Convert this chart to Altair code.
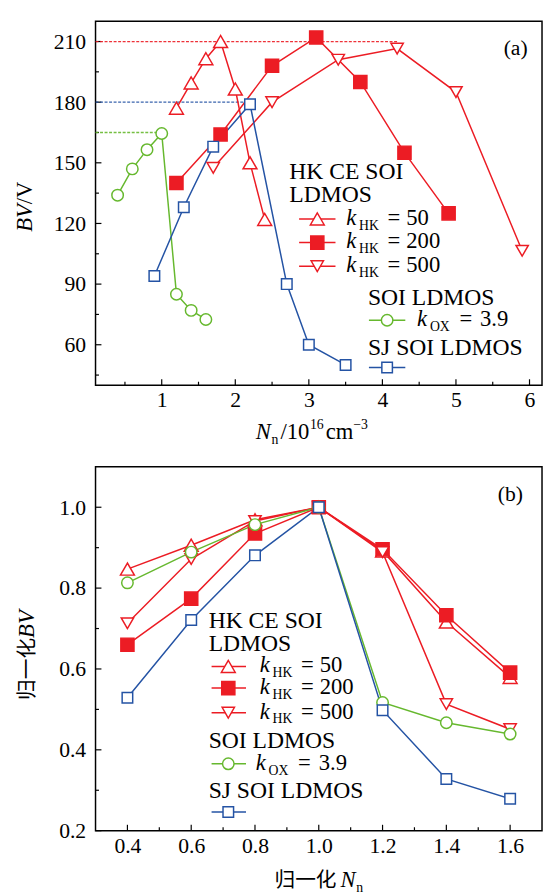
import altair as alt
import pandas as pd

# ---------------- Panel (a): BV vs Nn (10^16 cm^-3) ----------------
a_k50_x = [1.2, 1.4, 1.6, 1.8, 2.0, 2.2, 2.4]
a_k50_y = [177, 189.5, 201.5, 210, 186.5, 150, 122]
a_k200_x = [1.2, 1.8, 2.5, 3.1, 3.7, 4.3, 4.9]
a_k200_y = [140, 164, 198, 212, 190, 155, 125]
a_k500_x = [1.7, 2.5, 3.4, 4.2, 5.0, 5.9]
a_k500_y = [147.5, 180, 201, 206.5, 185, 106.5]
a_ox_x = [0.4, 0.6, 0.8, 1.0, 1.2, 1.4, 1.6]
a_ox_y = [134, 147, 156.5, 164.5, 85, 77, 72.5]
a_sj_x = [0.9, 1.3, 1.7, 2.2, 2.7, 3.0, 3.5]
a_sj_y = [94, 128, 158, 179, 90, 60, 50]
a_ref_series = ["k200", "sj", "ox"]
a_ref_y = [210, 180, 165]
a_ref_x0 = [0.1, 0.1, 0.1]
a_ref_x1 = [4.2, 2.2, 1.0]
a_xmajor = [1, 2, 3, 4, 5, 6]
a_xminor = [0.5, 1.5, 2.5, 3.5, 4.5, 5.5]
a_ymajor = [60, 90, 120, 150, 180, 210]
a_yminor = [45, 75, 105, 135, 165, 195]

# ---------------- Panel (b): normalized ----------------
b_x = [0.4, 0.6, 0.8, 1.0, 1.2, 1.4, 1.6]
b_k50_y = [0.847, 0.906, 0.969, 1.0, 0.892, 0.716, 0.579]
b_k200_y = [0.660, 0.774, 0.935, 1.0, 0.896, 0.733, 0.591]
b_k500_y = [0.713, 0.872, 0.966, 1.0, 0.889, 0.513, 0.451]
b_ox_y = [0.813, 0.889, 0.957, 1.0, 0.517, 0.467, 0.439]
b_sj_y = [0.529, 0.721, 0.881, 1.0, 0.498, 0.328, 0.279]
b_xmajor = [0.4, 0.6, 0.8, 1.0, 1.2, 1.4, 1.6]
b_xminor = [0.5, 0.7, 0.9, 1.1, 1.3, 1.5]
b_ymajor = [0.2, 0.4, 0.6, 0.8, 1.0]
b_yminor = [0.3, 0.5, 0.7, 0.9]

RED = "#ec1c24"
GREEN = "#66b82e"
BLUE = "#2453a4"
SER = ["k50", "k200", "k500", "ox", "sj"]
SER_COLOR = [RED, RED, RED, GREEN, BLUE]
SER_SHAPE = ["triangle-up", "square", "triangle-down", "circle", "square"]
SER_FILL = ["white", RED, "white", "white", "white"]
SER_SIZE = [200, 115, 200, 105, 115]

W, H = 454, 370
FONT = "'Liberation Serif', 'DejaVu Serif', 'Noto Sans CJK SC', serif"

color_sc = alt.Scale(domain=SER, range=SER_COLOR)
shape_sc = alt.Scale(domain=SER, range=SER_SHAPE)
fill_sc = alt.Scale(domain=SER, range=SER_FILL)
size_sc = alt.Scale(domain=SER, range=SER_SIZE)


def long_df(xs_list, ys_list):
    rows = []
    for s, xs, ys in zip(SER, xs_list, ys_list):
        for x, y in zip(xs, ys):
            rows.append({"s": s, "x": x, "y": y})
    return pd.DataFrame(rows)


def T(lst, s, x, y, fs=23, it=False, ang=0):
    lst.append(dict(t=s, px=x, py=y, fs=fs, it=it, ang=ang))


def heading(lst, s, x, ycen):
    T(lst, s, x, ycen + 8, 24)


def k_entry(lst, kx, ycen, sub, val, dsub=13, deq=42, dval=61):
    base = ycen + 6
    T(lst, "k", kx, base, 23, True)
    T(lst, sub, kx + dsub, base + 5, 14)
    T(lst, "=", kx + deq, base, 23)
    T(lst, val, kx + dval, base, 23)


def panel(df, xdom, ydom, xmaj, xmin, ymaj, ymin, xfmt, yfmt, texts, syms, refs=None):
    xax = alt.Axis(values=xmaj, format=xfmt, ticks=False, tickSize=0, domain=False, grid=False,
                   labelFont=FONT, labelFontSize=22, labelPadding=5, labelColor="black", title=None)
    yax = alt.Axis(values=ymaj, format=yfmt, ticks=False, tickSize=0, domain=False, grid=False,
                   labelFont=FONT, labelFontSize=22, labelPadding=10, labelColor="black", title=None)
    xs = alt.Scale(domain=xdom, nice=False, zero=False)
    ys = alt.Scale(domain=ydom, nice=False, zero=False)
    X = lambda f: alt.X(f, scale=xs, axis=xax)
    Y = lambda f: alt.Y(f, scale=ys, axis=yax)

    layers = []
    # inward ticks
    layers.append(alt.Chart(pd.DataFrame({"y": ymaj})).mark_rule(color="black", strokeWidth=1.2)
                  .encode(y=Y("y:Q"), x=alt.value(0), x2=alt.value(6)))
    layers.append(alt.Chart(pd.DataFrame({"y": ymin})).mark_rule(color="black", strokeWidth=1.2)
                  .encode(y=Y("y:Q"), x=alt.value(0), x2=alt.value(3.5)))
    layers.append(alt.Chart(pd.DataFrame({"x": xmaj})).mark_rule(color="black", strokeWidth=1.2)
                  .encode(x=X("x:Q"), y=alt.value(H), y2=alt.value(H - 6)))
    layers.append(alt.Chart(pd.DataFrame({"x": xmin})).mark_rule(color="black", strokeWidth=1.2)
                  .encode(x=X("x:Q"), y=alt.value(H), y2=alt.value(H - 3.5)))
    if refs is not None:
        layers.append(alt.Chart(refs).mark_rule(strokeDash=[3, 1.6], strokeWidth=1.3, opacity=0.9)
                      .encode(x=X("x:Q"), x2="x2:Q", y=Y("y:Q"),
                              color=alt.Color("s:N", scale=color_sc, legend=None)))
    layers.append(alt.Chart(df).mark_line(strokeWidth=1.5)
                  .encode(x=X("x:Q"), y=Y("y:Q"),
                          color=alt.Color("s:N", scale=color_sc, legend=None), detail="s:N"))
    layers.append(alt.Chart(df).mark_point(filled=True, strokeWidth=1.5, opacity=1)
                  .encode(x=X("x:Q"), y=Y("y:Q"),
                          shape=alt.Shape("s:N", scale=shape_sc, legend=None),
                          stroke=alt.Stroke("s:N", scale=color_sc, legend=None),
                          fill=alt.Fill("s:N", scale=fill_sc, legend=None),
                          size=alt.Size("s:N", scale=size_sc, legend=None)))
    # legend symbols
    sdf = pd.DataFrame(syms)
    PX = alt.X("px:Q", scale=None, axis=None)
    PY = alt.Y("py:Q", scale=None, axis=None)
    layers.append(alt.Chart(sdf).mark_rule(strokeWidth=1.5)
                  .encode(x=PX, x2="px2:Q", y=PY,
                          color=alt.Color("s:N", scale=color_sc, legend=None)))
    layers.append(alt.Chart(sdf).mark_point(filled=True, strokeWidth=1.5, opacity=1)
                  .encode(x=alt.X("pm:Q", scale=None, axis=None), y=PY,
                          shape=alt.Shape("s:N", scale=shape_sc, legend=None),
                          stroke=alt.Stroke("s:N", scale=color_sc, legend=None),
                          fill=alt.Fill("s:N", scale=fill_sc, legend=None),
                          size=alt.Size("s:N", scale=size_sc, legend=None)))
    # texts grouped by style
    tdf = pd.DataFrame(texts)
    for (it, ang, fs), g in tdf.groupby(["it", "ang", "fs"]):
        mk = dict(align="left", baseline="alphabetic", font=FONT, fontSize=float(fs),
                  fontStyle="italic" if it else "normal", color="black")
        if ang:
            mk["angle"] = float(ang)
        layers.append(alt.Chart(g.reset_index(drop=True)).mark_text(**mk)
                      .encode(x=PX, y=PY, text="t:N"))
    return alt.layer(*layers).properties(width=W, height=H)


# ---------- panel (a) texts/symbols ----------
ta = []
T(ta, "(a)", 415, 34.5, 22)
heading(ta, "HK CE SOI", 197, 152)
heading(ta, "LDMOS", 197, 176)
k_entry(ta, 255, 201, "HK", "50")
k_entry(ta, 255, 225, "HK", "200")
k_entry(ta, 255, 249, "HK", "500")
heading(ta, "SOI LDMOS", 277, 280)
k_entry(ta, 327, 304, "OX", "3.9", dsub=13, deq=43, dval=64)
heading(ta, "SJ SOI LDMOS", 277, 331)
# y title
T(ta, "BV", -65, 214, 23, True, 270)
T(ta, "/V", -65, 186, 23, False, 270)
# x title
T(ta, "N", 163, 425, 23, True)
T(ta, "n", 179, 430, 14)
T(ta, "/10", 188, 425, 23)
T(ta, "16", 218, 415, 14)
T(ta, "cm", 234, 425, 23)
T(ta, "\u22123", 262, 415, 14)

sa = [
    dict(px=207, px2=244, pm=225.5, py=201, s="k50"),
    dict(px=207, px2=244, pm=225.5, py=225, s="k200"),
    dict(px=207, px2=244, pm=225.5, py=249, s="k500"),
    dict(px=278, px2=315, pm=296.5, py=304, s="ox"),
    dict(px=278, px2=315, pm=296.5, py=352, s="sj"),
]

# ---------- panel (b) texts/symbols ----------
tb = []
T(tb, "(b)", 409, 34.5, 22)
heading(tb, "HK CE SOI", 115, 156)
heading(tb, "LDMOS", 115, 179)
k_entry(tb, 167, 203, "HK", "50")
k_entry(tb, 167, 225, "HK", "200")
k_entry(tb, 167, 250, "HK", "500")
heading(tb, "SOI LDMOS", 115, 278)
k_entry(tb, 163, 302, "OX", "3.9", dsub=13, deq=43, dval=64)
heading(tb, "SJ SOI LDMOS", 115, 329)
T(tb, "归一化", -63, 237, 21, False, 270)
T(tb, "BV", -63, 174, 23, True, 270)
T(tb, "归一化", 182, 427, 21)
T(tb, "N", 249, 427, 23, True)
T(tb, "n", 265, 432, 14)

sb = [
    dict(px=118, px2=153, pm=135, py=203, s="k50"),
    dict(px=118, px2=153, pm=135, py=225, s="k200"),
    dict(px=118, px2=153, pm=135, py=250, s="k500"),
    dict(px=118, px2=153, pm=135, py=302, s="ox"),
    dict(px=118, px2=153, pm=135, py=351, s="sj"),
]

df_a = long_df([a_k50_x, a_k200_x, a_k500_x, a_ox_x, a_sj_x],
               [a_k50_y, a_k200_y, a_k500_y, a_ox_y, a_sj_y])
df_b = long_df([b_x] * 5, [b_k50_y, b_k200_y, b_k500_y, b_ox_y, b_sj_y])
refs_a = pd.DataFrame({"s": a_ref_series, "x": a_ref_x0, "x2": a_ref_x1, "y": a_ref_y})

top = panel(df_a, [0.1, 6.17], [40, 220], a_xmajor, a_xminor, a_ymajor, a_yminor,
            "d", "d", ta, sa, refs_a)
bottom = panel(df_b, [0.3, 1.7], [0.2, 1.1], b_xmajor, b_xminor, b_ymajor, b_yminor,
               ".1f", ".1f", tb, sb)

chart = (alt.vconcat(top, bottom, spacing=83, bounds="flush")
         .properties(padding={"left": 5, "top": 5, "right": 0, "bottom": 0})
         .configure_view(stroke="black", strokeWidth=1.5))

chart.save("out.html", embed_options={"renderer": "svg", "actions": False})
